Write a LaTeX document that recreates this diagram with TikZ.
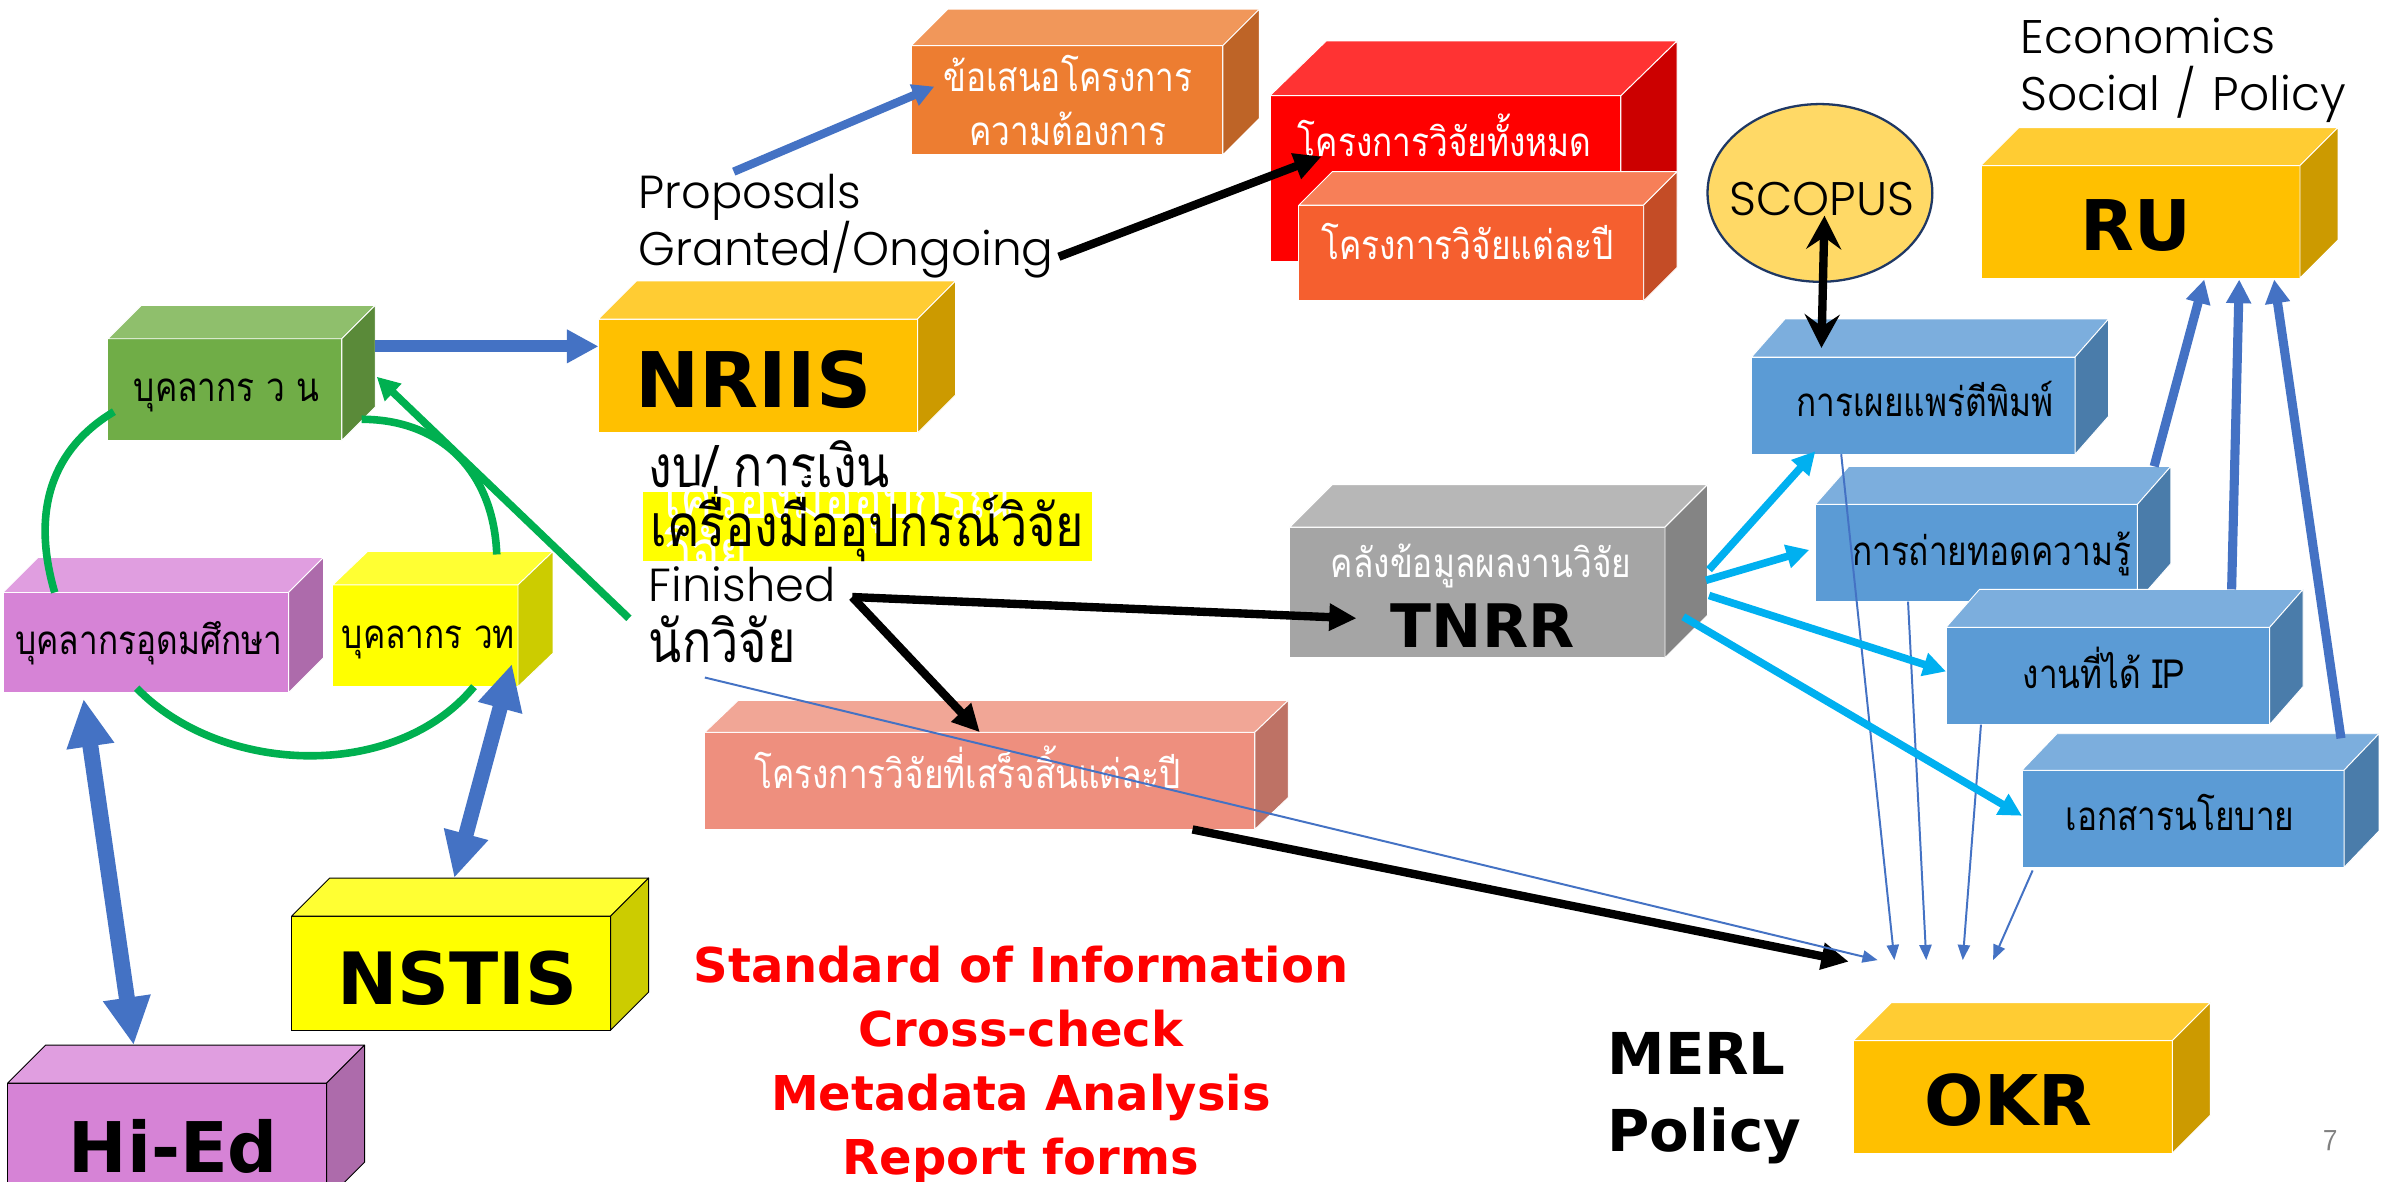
\documentclass[tikz,border=0pt]{standalone}
\usepackage{fontspec}
\setmainfont{Poppins Light}
\newfontfamily\thaifont[Script=Thai,FakeStretch=0.83]{Loma}
\newfontfamily\boldfont{DejaVu Sans}
\usetikzlibrary{arrows.meta,shapes.geometric}
\definecolor{arrowblue}{HTML}{4472C4}
\definecolor{arrowgreen}{HTML}{00B050}
\definecolor{arrowcyan}{HTML}{00B0F0}
\definecolor{greenF}{HTML}{70AD47}\definecolor{greenT}{HTML}{8FBF6C}\definecolor{greenS}{HTML}{5A8A39}
\definecolor{pinkF}{HTML}{D683D6}\definecolor{pinkT}{HTML}{E09EE0}\definecolor{pinkS}{HTML}{AD6BAB}
\definecolor{yelF}{HTML}{FFFF00}\definecolor{yelT}{HTML}{FFFF33}\definecolor{yelS}{HTML}{CCCC00}
\definecolor{ambF}{HTML}{FFC000}\definecolor{ambT}{HTML}{FFCC33}\definecolor{ambS}{HTML}{CC9A00}
\definecolor{oraF}{HTML}{ED7D31}\definecolor{oraT}{HTML}{F1975A}\definecolor{oraS}{HTML}{BE6427}
\definecolor{redF}{HTML}{FF0000}\definecolor{redT}{HTML}{FF3333}\definecolor{redS}{HTML}{CC0000}
\definecolor{tomF}{HTML}{F55F2F}\definecolor{tomT}{HTML}{F77F58}\definecolor{tomS}{HTML}{C44C26}
\definecolor{salF}{HTML}{EE8F7E}\definecolor{salT}{HTML}{F1A696}\definecolor{salS}{HTML}{BE7265}
\definecolor{greyF}{HTML}{A5A5A5}\definecolor{greyT}{HTML}{B7B7B7}\definecolor{greyS}{HTML}{848484}
\definecolor{bluF}{HTML}{5B9BD5}\definecolor{bluT}{HTML}{7CAEDD}\definecolor{bluS}{HTML}{4A7CAA}
\definecolor{scopusfill}{HTML}{FFD966}
\definecolor{scopusline}{HTML}{1F3864}
\tikzset{
  cubeface/.style={rectangle,inner sep=0pt,outer sep=0pt,line width=.6pt},
  thaibox/.style={inner sep=0pt,anchor=base,font=\thaifont\fontsize{#1}{#1}\selectfont},
  latinlabel/.style={inner sep=0pt,anchor=base west,font=\fontsize{#1}{#1}\selectfont},
  thailabel/.style={inner sep=0pt,anchor=base west,font=\thaifont\fontsize{38.5}{38.5}\selectfont},
  bigbold/.style={inner sep=0pt,anchor=base,font=\boldfont\bfseries\fontsize{#1}{#1}\selectfont},
  blueArrow/.style={arrowblue,line width=#1,-{Triangle[length=#1*2.6,width=#1*2.6]}},
  blueDouble/.style={arrowblue,line width=#1,{Triangle[length=#1*3,width=#1*2.8]}-{Triangle[length=#1*3,width=#1*2.8]}},
  blackArrow/.style={black,line width=5.5pt,-{Triangle[length=18pt,width=17pt]}},
  cyanArrow/.style={arrowcyan,line width=5pt,-{Triangle[length=15pt,width=15pt]}},
  thinArrow/.style={arrowblue,line width=1.3pt,-{Triangle[length=10pt,width=8pt]}},
  greenCurve/.style={arrowgreen,line width=5pt},
}
\newcommand{\cubebox}[9]{%
  \pgfmathsetmacro\cw{#4-#2}\pgfmathsetmacro\ch{#5-#3}%
  \node[cubeface,fill=#8F,draw=#9,minimum width=\cw pt,minimum height=\ch pt] (#1) at ({(#2+#4)/2},{(#3+#5)/2}) {};%
  \filldraw[fill=#8T,draw=#9,line width=.6pt,line join=round] (#2,#3) -- ({#2+#6-#4},#7) -- (#6,#7) -- (#4,#3) -- cycle;%
  \filldraw[fill=#8S,draw=#9,line width=.6pt,line join=round] (#4,#3) -- (#6,#7) -- (#6,{#7+#5-#3}) -- (#4,#5) -- cycle;%
}
\begin{document}
\begin{tikzpicture}[x=1pt,y=-1pt]
\clip (0,0) rectangle (1568,778);
\fill[white] (0,0) rectangle (1568,778);

% boxes
\cubebox{prop}{600}{30}{805}{102}{829}{6}{ora}{white}
\cubebox{allproj}{836}{63}{1067}{172}{1104}{27}{red}{white}
\cubebox{yearproj}{855}{135}{1082}{198}{1104}{113}{tom}{white}
\cubebox{nriis}{394}{210}{604}{285}{629}{185}{amb}{white}
\cubebox{rn}{71}{223}{225}{290}{247}{201}{green}{white}
\cubebox{hied}{2}{390}{190}{456}{213}{367}{pink}{white}
\cubebox{wt}{219}{385}{341}{452}{364}{363}{yel}{white}
\cubebox{nstis}{192}{603}{402}{678}{427}{578}{yel}{black}
\cubebox{hi}{5}{713}{215}{790}{240}{688}{pink}{black}
\cubebox{tnrr}{849}{347}{1096}{433}{1124}{319}{grey}{white}
\cubebox{done}{464}{482}{826}{546}{848}{461}{sal}{white}
\cubebox{ru}{1304}{109}{1514}{183}{1539}{84}{amb}{white}
\cubebox{pub}{1153}{235}{1366}{299}{1388}{210}{blu}{white}
\cubebox{trans}{1195}{332}{1407}{396}{1429}{307}{blu}{white}
\cubebox{ip}{1281}{413}{1494}{477}{1516}{388}{blu}{white}
\cubebox{pol}{1331}{507}{1543}{571}{1566}{483}{blu}{white}
\cubebox{okr}{1220}{685}{1430}{759}{1455}{660}{amb}{white}
\node[ellipse,draw=scopusline,line width=1.5pt,fill=scopusfill,minimum width=148pt,minimum height=117pt,inner sep=0pt] (scopus) at (1198,127) {};

% stacked text block with yellow highlight
\node[thailabel] (budget) at (427,321) {งบ/ การเงิน};
\node[fill=yelF,minimum width=296pt,minimum height=45pt,inner sep=0pt] (hl) at (571,346.5) {};
\node[thailabel,white] (wtool) at (437,341) {เครื่องมืออุปกรณ์};
\node[thailabel,white] (wres) at (437,377) {วิจัย};
\node[thailabel] (tool) at (428,360) {เครื่องมืออุปกรณ์วิจัย};
\node[latinlabel=30.5] (fin) at (427,396) {Finished};
\node[thailabel] (res) at (427,436) {นักวิจัย};

% other labels
\node[latinlabel=31] (econ) at (1330,35) {Economics};
\node[latinlabel=31] (soc) at (1330,73) {Social\hspace{10pt}/\hspace{11pt}Policy};
\node[latinlabel=30.5] (pp) at (420,137) {Proposals};
\node[latinlabel=31] (go) at (420,175) {Granted/Ongoing};
\node[thaibox=26.5,white] (t1) at (703,60) {ข้อเสนอโครงการ};
\node[thaibox=26.5,white] (t2) at (703,96) {ความต้องการ};
\node[thaibox=26.5,white] (t3) at (951,103) {โครงการวิจัยทั้งหมด};
\node[thaibox=26.5,white] (t4) at (966,171) {โครงการวิจัยแต่ละปี};
\node[thaibox=26.5] (t5) at (149,264) {บุคลากร ว น};
\node[thaibox=26.5] (t6) at (98,431) {บุคลากรอุดมศึกษา};
\node[thaibox=26.5] (t7) at (282,427) {บุคลากร วท};
\node[thaibox=26.5,white] (t8) at (975,380) {คลังข้อมูลผลงานวิจัย};
\node[thaibox=26.5,white] (t9) at (637,519) {โครงการวิจัยที่เสร็จสิ้นแต่ละปี};
\node[thaibox=26.5] (t10) at (1267,274) {การเผยแพร่ตีพิมพ์};
\node[thaibox=26.5] (t11) at (1311,372) {การถ่ายทอดความรู้};
\node[thaibox=26.5] (t12) at (1385,453) {งานที่ได้ IP};
\node[thaibox=26.5] (t13) at (1435,547) {เอกสารนโยบาย};
\node[latinlabel=31] (scopustext) at (1138,142) {SCOPUS};
\node[bigbold=50.5] (bn) at (496,268) {NRIIS};
\node[bigbold=47.5] (bs) at (301,661) {NSTIS};
\node[bigbold=46] (bh) at (114,772) {Hi-Ed};
\node[bigbold=46] (br) at (1406,165) {RU};
\node[bigbold=46] (bo) at (1322,741) {OKR};
\node[bigbold=39.5] (bt) at (976,426) {TNRR};
\node[bigbold=38,anchor=base west] (m1) at (1058,707) {MERL};
\node[bigbold=38,anchor=base west] (m2) at (1058,758) {Policy};
\node[bigbold=31.6,red] (r1) at (672,647) {Standard of Information};
\node[bigbold=31.6,red] (r2) at (672,689) {Cross-check};
\node[bigbold=31.6,red] (r3) at (672,731) {Metadata Analysis};
\node[bigbold=31.6,red] (r4) at (672,773) {Report forms};
\node[inner sep=0pt,text=gray,font=\sffamily\fontsize{20}{20}\selectfont] (pg) at (1534,751) {7};

% connector ends
\foreach \n/\x/\y in {
  a1/247/228,a2/394/228,b1/483/113,b2/615/57,c1/697/169,c2/870/103,
  g1/36/390,g2/75/271,g3/327/365,g4/238/276,g5/90/453,g6/312/452,g7/414/407,g8/248/248,
  d1/88/688,d2/55/460,e1/299/578,e2/337/437,s1/1201/142,s2/1199/229,
  f0/561/393,f1/893/407,f2/645/482,k1/785/546,k2/1217/633,
  n1/464/446,n2/1236/632,n3/1212/299,n4/1247/632,n5/1256/396,n6/1268/632,n7/1304/477,n8/1292/632,n9/1338/573,n10/1312/632,
  y1/1125/375,y2/1195/297,y3/1123/382,y4/1191/362,y5/1125/392,y6/1281/442,y7/1108/406,y8/1331/537,
  u1/1418/307,u2/1451/184,u3/1469/388,u4/1474/184,u5/1541/486,u6/1497/184}
  {\coordinate (\n) at (\x,\y);}

% connectors
\draw[blueArrow=8pt] (a1) -- (a2);
\draw[blueArrow=5.5pt] (b1) -- (b2);
\draw[blackArrow] (c1) -- (c2);
\draw[greenCurve] (g1) .. controls (20,335) and (35,295) .. (g2);
\draw[greenCurve] (g3) .. controls (325,310) and (290,276) .. (g4);
\draw[greenCurve] (g5) .. controls (145,510) and (260,515) .. (g6);
\draw[arrowgreen,line width=5pt,-{Triangle[length=15pt,width=15pt]}] (g7) -- (g8);
\draw[blueDouble=10.5pt] (d1) -- (d2);
\draw[blueDouble=10pt] (e1) -- (e2);
\draw[black,line width=5.5pt,{Stealth[length=22pt,width=23pt,inset=8pt]}-{Stealth[length=22pt,width=23pt,inset=8pt]}] (s1) -- (s2);
\draw[blackArrow] (f0) -- (f1);
\draw[blackArrow] (f0) -- (f2);
\draw[blackArrow] (k1) -- (k2);
\draw[thinArrow] (n1) -- (n2);
\draw[thinArrow] (n3) -- (n4);
\draw[thinArrow] (n5) -- (n6);
\draw[thinArrow] (n7) -- (n8);
\draw[thinArrow] (n9) -- (n10);
\draw[cyanArrow] (y1) -- (y2);
\draw[cyanArrow] (y3) -- (y4);
\draw[cyanArrow] (y5) -- (y6);
\draw[cyanArrow] (y7) -- (y8);
\draw[blueArrow=6pt] (u1) -- (u2);
\draw[blueArrow=6pt] (u3) -- (u4);
\draw[blueArrow=6pt] (u5) -- (u6);
\end{tikzpicture}
\end{document}
